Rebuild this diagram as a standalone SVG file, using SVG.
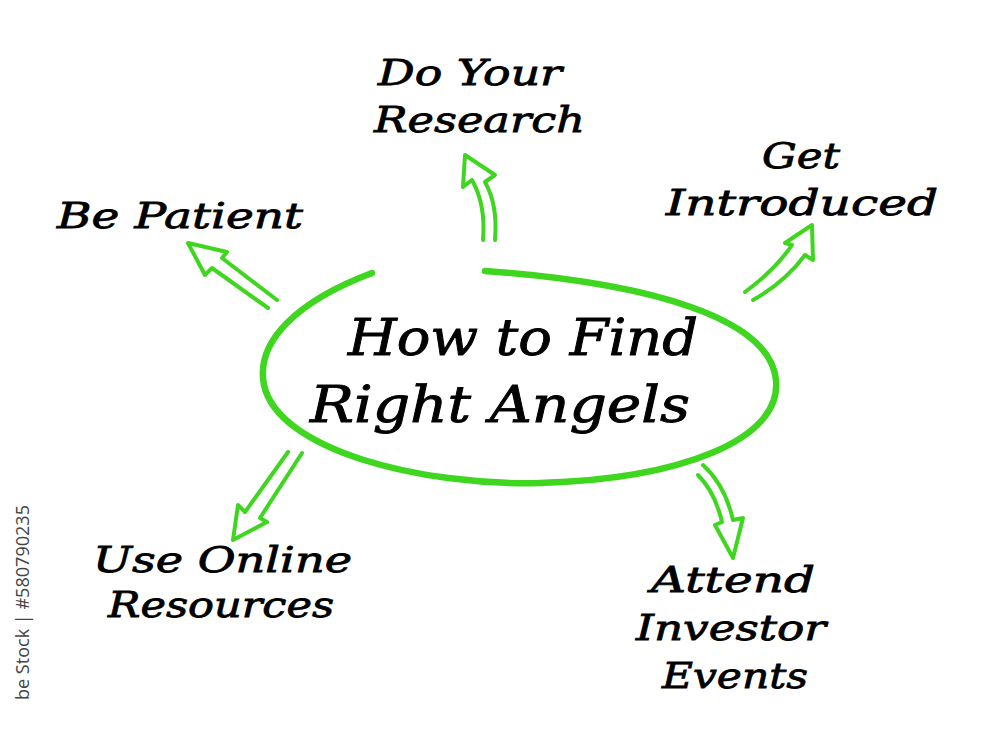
<svg xmlns="http://www.w3.org/2000/svg" width="1000" height="746" viewBox="0 0 1000 746">
<style>
.lbl{font-family:"DejaVu Serif","Liberation Serif",serif;font-style:italic;font-size:36px;fill:#000;stroke:#000;stroke-width:0.8;}
.title{font-family:"DejaVu Serif","Liberation Serif",serif;font-style:italic;font-size:50px;fill:#000;stroke:#000;stroke-width:0.9;}
.arr{fill:none;stroke:#3fd61f;stroke-width:4;stroke-linejoin:round;stroke-linecap:round;}
.wm{font-family:"Open Sans","DejaVu Sans",sans-serif;font-size:19px;fill:#444;}
</style>
<rect width="1000" height="746" fill="#fff"/>
<g id="center">
<path d="M372,273 C300,300 255,340 264,385 C278,450 420,486 540,483 C680,479 782,440 776,380 C770,318 650,283 485,271" fill="none" stroke="#3fd61f" stroke-width="6.5" stroke-linecap="round"/>
<text class="title" x="348" y="355" textLength="350" lengthAdjust="spacingAndGlyphs">How to Find</text>
<text class="title" x="310" y="422" textLength="380" lengthAdjust="spacingAndGlyphs">Right Angels</text>
</g>
<g id="research">
<text class="lbl" x="378" y="85" textLength="184" lengthAdjust="spacingAndGlyphs">Do Your</text>
<text class="lbl" x="374" y="132" textLength="211" lengthAdjust="spacingAndGlyphs">Research</text>
</g>
<g id="introduced">
<text class="lbl" x="762" y="168" textLength="78" lengthAdjust="spacingAndGlyphs">Get</text>
<text class="lbl" x="666" y="215" textLength="272" lengthAdjust="spacingAndGlyphs">Introduced</text>
</g>
<g id="patient">
<text class="lbl" x="57" y="228" textLength="246" lengthAdjust="spacingAndGlyphs">Be Patient</text>
</g>
<g id="online">
<text class="lbl" x="93" y="572" textLength="259" lengthAdjust="spacingAndGlyphs">Use Online</text>
<text class="lbl" x="108" y="617" textLength="226" lengthAdjust="spacingAndGlyphs">Resources</text>
</g>
<g id="events">
<text class="lbl" x="651" y="592" textLength="164" lengthAdjust="spacingAndGlyphs">Attend</text>
<text class="lbl" x="636" y="640" textLength="190" lengthAdjust="spacingAndGlyphs">Investor</text>
<text class="lbl" x="662" y="688" textLength="146" lengthAdjust="spacingAndGlyphs">Events</text>
</g>
<g id="connectors">
<path class="arr" d="M277,300 L222,258 L227,252 L188,243 L205,275 L212,268 L268,308"/>
<path class="arr" d="M483,240 Q486,205 472,180 L463,187 L465,155 L495,175 L485,182 Q498,205 495,240"/>
<path class="arr" d="M745,292 Q775,270 792,245 L785,243 L812,225 L813,260 L805,255 Q785,282 753,300"/>
<path class="arr" d="M288,452 L245,512 L238,505 L233,540 L267,522 L260,518 L302,453"/>
<path class="arr" d="M703,465 Q725,485 733,520 L743,518 L733,558 L715,525 L722,522 Q715,492 698,475"/>
</g>
<text class="wm" transform="translate(29,700) rotate(-90)" x="0" y="0" textLength="195" lengthAdjust="spacingAndGlyphs">be Stock | #580790235</text>
</svg>
